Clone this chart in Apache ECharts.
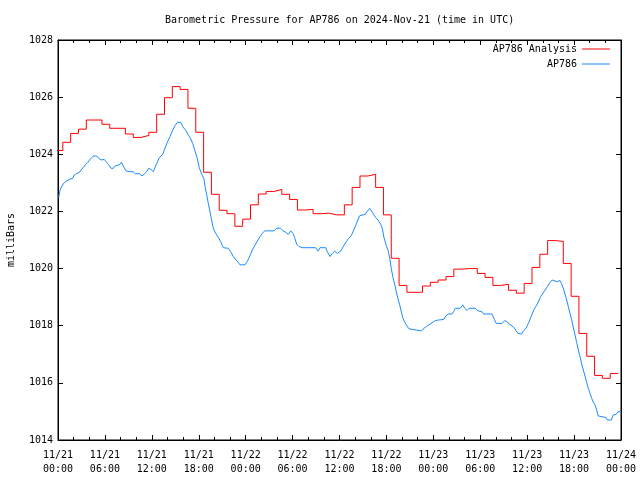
<!DOCTYPE html>
<html>
<head>
<meta charset="utf-8">
<script src="https://cdn.jsdelivr.net/npm/echarts@6/dist/echarts.min.js"></script>
<style>html,body{margin:0;padding:0;background:#fff}#c{width:640px;height:480px}</style>
</head>
<body>
<div id="c"></div>
<script>
// Hours since 2024-11-21 00:00 UTC
var xTickLabels = ['11/21\n00:00','11/21\n06:00','11/21\n12:00','11/21\n18:00','11/22\n00:00','11/22\n06:00','11/22\n12:00','11/22\n18:00','11/23\n00:00','11/23\n06:00','11/23\n12:00','11/23\n18:00','11/24\n00:00'];
var yTickValues = [1014,1016,1018,1020,1022,1024,1026,1028];

// AP786 Analysis: hourly values, first stamp at -0.38 h (20 Nov 23:37)
var analysisFirstHour = -0.38;
var analysisValues = [1024.13,1024.42,1024.73,1024.88,1025.20,1025.20,1025.05,1024.91,1024.91,1024.71,
1024.59,1024.66,1024.77,1025.40,1025.98,1026.37,1026.27,1025.61,1024.77,1023.37,
1022.60,1022.04,1021.92,1021.48,1021.73,1022.23,1022.61,1022.70,1022.77,1022.60,
1022.42,1022.05,1022.07,1021.92,1021.94,1021.88,1021.88,1022.23,1022.84,1023.24,
1023.30,1022.84,1021.88,1020.36,1019.41,1019.17,1019.17,1019.39,1019.52,1019.60,
1019.72,1019.98,1020.00,1020.00,1019.83,1019.69,1019.41,1019.45,1019.24,1019.14,
1019.48,1020.04,1020.50,1020.98,1020.95,1020.18,1019.03,1017.73,1016.93,1016.26,
1016.16,1016.33,1016.33];

// AP786 observations
var obsHours = [0.09,0.26,0.51,0.81,1.15,1.45,1.66,1.88,2.08,2.39,2.72,2.94,3.24,3.49,3.80,4.00,4.22,4.51,4.95,5.21,
5.50,5.72,5.92,6.14,6.43,6.78,7.07,7.33,7.84,8.10,8.35,8.70,9.12,9.63,9.89,10.40,10.74,11.04,11.34,11.60,
11.89,12.19,12.62,12.96,13.39,13.68,13.98,14.32,14.67,14.96,15.26,15.69,15.95,16.11,16.37,16.66,16.97,17.23,17.52,17.81,
18.07,18.38,18.67,18.80,19.02,19.22,19.44,19.66,19.86,20.17,20.50,20.81,21.14,21.78,22.09,22.42,22.76,23.06,23.27,23.91,
24.21,24.55,24.85,25.15,25.49,25.83,26.13,26.43,27.62,27.97,28.17,28.48,28.77,29.12,29.45,29.76,30.05,30.27,30.53,30.82,
31.24,32.96,33.25,33.51,34.24,34.44,34.78,35.08,35.39,35.72,36.15,36.58,36.87,37.18,37.51,37.77,38.02,38.28,38.58,38.79,
39.30,39.56,39.86,40.07,40.37,40.63,40.92,41.27,41.47,41.69,41.99,42.20,42.42,42.62,42.84,43.06,43.26,43.48,43.70,43.90,
44.12,44.34,44.63,44.89,45.11,46.46,46.81,47.10,47.32,48.25,48.68,49.32,49.61,49.87,50.39,50.60,50.81,51.45,51.76,52.01,
52.31,52.60,53.37,53.71,54.22,54.44,55.50,55.80,56.05,56.78,57.13,57.42,57.71,58.06,58.41,58.57,58.83,59.00,59.26,59.56,
59.86,60.20,60.53,60.88,61.30,61.73,62.15,62.58,62.92,63.21,63.43,63.85,64.20,64.37,64.62,64.84,65.06,65.26,65.48,65.70,
65.90,66.12,66.33,66.54,66.76,66.97,67.18,67.40,67.61,67.82,68.04,68.25,68.46,68.68,68.89,69.10,69.32,70.05,70.25,70.76,
71.02,71.20,71.40,71.62,71.96];
var obsValues = [1022.49,1022.75,1022.89,1023.01,1023.07,1023.12,1023.07,1023.16,1023.28,1023.33,1023.36,1023.45,1023.54,1023.63,1023.71,1023.78,1023.86,1023.94,1023.94,1023.86,
1023.80,1023.74,1023.82,1023.74,1023.65,1023.51,1023.51,1023.60,1023.63,1023.72,1023.59,1023.42,1023.39,1023.39,1023.32,1023.32,1023.24,1023.31,1023.39,1023.51,
1023.47,1023.39,1023.68,1023.88,1024.00,1024.21,1024.42,1024.62,1024.85,1025.00,1025.12,1025.12,1024.97,1025.03,1024.82,1024.68,1024.54,1024.38,1024.12,1023.86,
1023.53,1023.30,1023.14,1022.87,1022.58,1022.28,1021.99,1021.67,1021.41,1021.23,1021.09,1020.94,1020.73,1020.71,1020.59,1020.42,1020.30,1020.22,1020.13,1020.13,
1020.25,1020.45,1020.65,1020.80,1020.96,1021.12,1021.23,1021.32,1021.32,1021.41,1021.34,1021.41,1021.32,1021.27,1021.20,1021.32,1021.23,1021.08,1020.85,1020.77,
1020.73,1020.73,1020.61,1020.73,1020.73,1020.59,1020.42,1020.53,1020.61,1020.53,1020.61,1020.82,1020.94,1021.06,1021.15,1021.32,1021.47,1021.66,1021.85,1021.90,
1021.90,1022.01,1022.11,1022.09,1021.90,1021.78,1021.70,1021.55,1021.41,1021.08,1020.80,1020.65,1020.36,1020.01,1019.68,1019.45,1019.19,1018.94,1018.73,1018.49,
1018.26,1018.12,1017.99,1017.89,1017.82,1017.82,1017.91,1017.97,1018.03,1018.18,1018.20,1018.22,1018.34,1018.41,1018.41,1018.49,1018.61,1018.61,1018.73,1018.61,
1018.53,1018.61,1018.61,1018.52,1018.49,1018.41,1018.41,1018.22,1018.08,1018.08,1018.18,1018.14,1018.06,1017.99,1017.91,1017.83,1017.73,1017.79,1017.71,1017.83,
1017.91,1018.11,1018.34,1018.57,1018.76,1019.02,1019.19,1019.37,1019.51,1019.60,1019.58,1019.54,1019.58,1019.48,1019.31,1019.11,1018.90,1018.67,1018.43,1018.20,
1017.94,1017.68,1017.41,1017.15,1016.92,1016.66,1016.45,1016.24,1016.01,1015.81,1015.63,1015.46,1015.32,1015.23,1015.05,1014.84,1014.79,1014.79,1014.70,1014.70,
1014.88,1014.82,1014.90,1014.99,1014.99];

var analysisData = analysisValues.map(function (v, i) { return [analysisFirstHour + i, v]; });
var obsData = obsHours.map(function (h, i) { return [h, obsValues[i]]; });

var FONT = 'DejaVu Sans Mono';
var chart = echarts.init(document.getElementById('c'), null, {renderer: 'canvas'});

function xAxisDef(pos, showLabel) {
  return {
    type: 'value', position: pos, min: 0, max: 72, interval: 6,
    axisLine: {show: true, onZero: false, lineStyle: {color: '#000', width: 1}},
    axisTick: {show: true, inside: true, length: 5, lineStyle: {color: '#000'}},
    minorTick: {show: true, splitNumber: 3, length: 3, lineStyle: {color: '#000'}},
    splitLine: {show: false},
    axisLabel: {show: showLabel, margin: 8, fontFamily: FONT, fontSize: 10, color: '#000', lineHeight: 14,
      formatter: function (v) { return xTickLabels[Math.round(v / 6)]; }}
  };
}
function yAxisDef(pos, showLabel, name) {
  return {
    type: 'value', position: pos, min: yTickValues[0], max: yTickValues[yTickValues.length - 1], interval: 2,
    name: name, nameLocation: 'middle', nameGap: 42, nameRotate: 90,
    nameTextStyle: {fontFamily: FONT, fontSize: 10, color: '#000'},
    axisLine: {show: true, onZero: false, lineStyle: {color: '#000', width: 1}},
    axisTick: {show: true, inside: true, length: 5, lineStyle: {color: '#000'}},
    splitLine: {show: false},
    axisLabel: {show: showLabel, margin: 5, fontFamily: FONT, fontSize: 10, color: '#000',
      formatter: function (v) { return String(v); }}
  };
}

chart.setOption({
  animation: false,
  backgroundColor: '#fff',
  title: {
    text: 'Barometric Pressure for AP786 on 2024-Nov-21 (time in UTC)',
    left: 165, top: 15, padding: 0,
    textStyle: {fontFamily: FONT, fontSize: 10, fontWeight: 'normal', color: '#000'}
  },
  legend: {
    orient: 'vertical', align: 'right', right: 30, top: 44, padding: 0,
    itemWidth: 28, itemHeight: 1, itemGap: 5,
    textStyle: {fontFamily: FONT, fontSize: 10, color: '#000'},
    data: [{name: 'AP786 Analysis', icon: 'rect'}, {name: 'AP786', icon: 'rect'}]
  },
  grid: {left: 58, right: 19, top: 40, bottom: 40, outerBoundsMode: 'none', containLabel: false,
    show: true, borderColor: '#000', borderWidth: 1, backgroundColor: 'transparent'},
  xAxis: [xAxisDef('bottom', true), xAxisDef('top', false)],
  yAxis: [yAxisDef('left', true, 'milliBars'), yAxisDef('right', false, '')],
  series: [
    {name: 'AP786 Analysis', type: 'line', step: 'end', data: analysisData, xAxisIndex: 0, yAxisIndex: 0,
     showSymbol: false, symbol: 'none', lineStyle: {color: '#ff0000', width: 1}, itemStyle: {color: '#ff0000'}, clip: true},
    {name: 'AP786', type: 'line', data: obsData, xAxisIndex: 0, yAxisIndex: 0,
     showSymbol: false, symbol: 'none', lineStyle: {color: '#1a8cff', width: 1}, itemStyle: {color: '#1a8cff'}, clip: true}
  ]
});
</script>
</body>
</html>
